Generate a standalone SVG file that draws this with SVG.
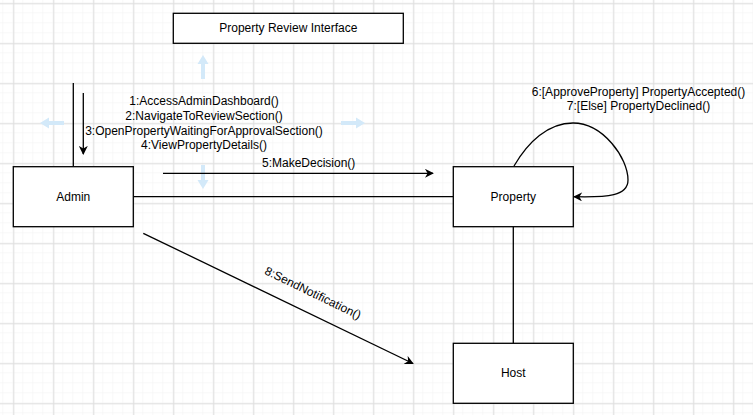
<svg xmlns="http://www.w3.org/2000/svg" width="753" height="415" viewBox="0 0 753 415">
<style>
.box{fill:#fff;stroke:#000;stroke-width:1.3}
.lbl{font-family:"Liberation Sans",Arial,sans-serif;font-size:12px;fill:#000;text-anchor:middle;dominant-baseline:central}
.ln{fill:none;stroke:#000;stroke-width:1.3}
.hint{fill:#d3e9f9}
</style>
<defs>
<pattern id="minor" width="10" height="10" patternUnits="userSpaceOnUse" x="3.3" y="3.3">
<path d="M10,0 V10 M0,10 H10" fill="none" stroke="#f0f0f0" stroke-width="1"/>
</pattern>
<pattern id="major" width="40" height="40" patternUnits="userSpaceOnUse" x="13.3" y="3.3">
<path d="M0.5,0 V40 M0,0.5 H40" fill="none" stroke="#dedede" stroke-width="1"/>
</pattern>
<marker id="arr" viewBox="0 0 10 10" refX="9" refY="5" markerWidth="9" markerHeight="9" markerUnits="userSpaceOnUse" orient="auto">
<path d="M0,0 L10,5 L0,10 L3,5 Z" fill="#000"/>
</marker>
</defs>
<rect width="753" height="415" fill="#fff"/>
<rect width="753" height="415" fill="url(#minor)"/>
<rect width="753" height="415" fill="url(#major)"/>

<g id="hints">
<path class="hint" d="M203,55 L208.5,64 L205,64 L205,79 L201,79 L201,64 L197.5,64 Z"/>
<path class="hint" d="M203,189 L208.5,180 L205,180 L205,165 L201,165 L201,180 L197.5,180 Z"/>
<path class="hint" d="M40,123 L49,117.5 L49,121 L64,121 L64,125 L49,125 L49,128.5 Z"/>
<path class="hint" d="M365,123 L356,117.5 L356,121 L341,121 L341,125 L356,125 L356,128.5 Z"/>
</g>

<g id="connectors">
<line class="ln" x1="73.3" y1="83" x2="73.3" y2="166.7"/>
<line class="ln" x1="83.3" y1="93" x2="83.3" y2="154" marker-end="url(#arr)"/>
<line class="ln" x1="163" y1="173.3" x2="433" y2="173.3" marker-end="url(#arr)"/>
<line class="ln" x1="133.3" y1="196.7" x2="453.3" y2="196.7"/>
<line class="ln" x1="513.3" y1="226.7" x2="513.3" y2="343.3"/>
<path class="ln" d="M514,166 C528,142 548,123 573,123 C603,123 628,158 628,180 C628,196 608,197.5 574,196.7" marker-end="url(#arr)"/>
<line class="ln" x1="143.3" y1="233.3" x2="413" y2="363.5" marker-end="url(#arr)"/>
<text class="lbl" x="204" y="101">1:AccessAdminDashboard()</text>
<text class="lbl" x="204" y="116">2:NavigateToReviewSection()</text>
<text class="lbl" x="204" y="130.5">3:OpenPropertyWaitingForApprovalSection()</text>
<text class="lbl" x="204" y="145">4:ViewPropertyDetails()</text>
<text class="lbl" x="308.7" y="163">5:MakeDecision()</text>
<text class="lbl" x="638.5" y="91.5">6:[ApproveProperty] PropertyAccepted()</text>
<text class="lbl" x="638.5" y="105.5">7:[Else] PropertyDeclined()</text>
<text class="lbl" x="313" y="293" transform="rotate(25.8 313 293)">8:SendNotification()</text>
</g>

<g id="node-interface">
<rect class="box" x="173.3" y="13.3" width="230" height="30"/>
<text class="lbl" x="288.3" y="28.3">Property Review Interface</text>
</g>
<g id="node-admin">
<rect class="box" x="13.3" y="166.7" width="120" height="60"/>
<text class="lbl" x="73.3" y="196.7">Admin</text>
</g>
<g id="node-property">
<rect class="box" x="453.3" y="166.7" width="120" height="60"/>
<text class="lbl" x="513.3" y="196.7">Property</text>
</g>
<g id="node-host">
<rect class="box" x="453.3" y="343.3" width="120" height="60"/>
<text class="lbl" x="513.3" y="373.3">Host</text>
</g>
</svg>
